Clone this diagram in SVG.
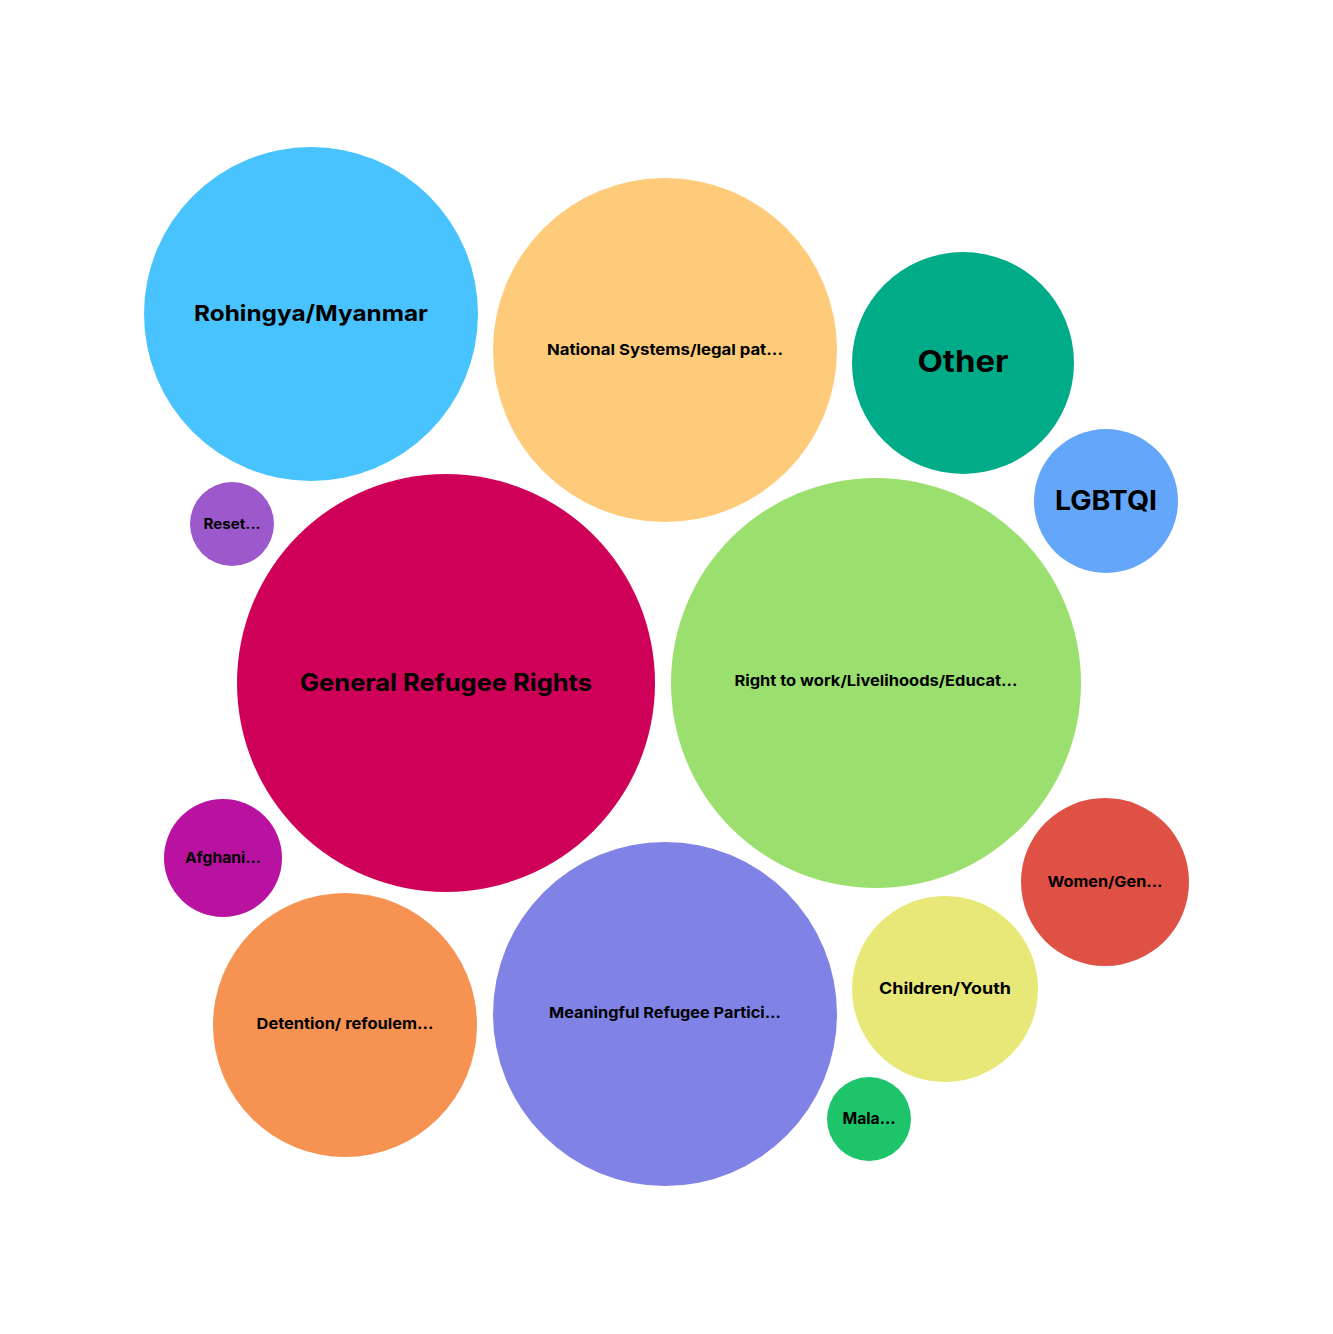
<svg xmlns="http://www.w3.org/2000/svg" width="1333" height="1334" viewBox="0 0 1333 1334">
<style>
text{font-family:Inter,"Open Sans","Liberation Sans",sans-serif;font-weight:700;fill:#000;text-anchor:middle;dominant-baseline:central}
</style>
<rect width="1333" height="1334" fill="#fff"/>
<g id="rohingya"><circle cx="311" cy="314" r="167" fill="#48C3FD"/><text x="311" y="313" font-size="22" textLength="234" lengthAdjust="spacingAndGlyphs">Rohingya/Myanmar</text></g>
<g id="national"><circle cx="665" cy="350" r="172" fill="#FECB7A"/><text x="665" y="349" font-size="15" textLength="236" lengthAdjust="spacingAndGlyphs">National Systems/legal pat...</text></g>
<g id="other"><circle cx="963" cy="363" r="111" fill="#00AB87"/><text x="963" y="361" font-size="30" textLength="91" lengthAdjust="spacingAndGlyphs">Other</text></g>
<g id="lgbtqi"><circle cx="1106" cy="501" r="72" fill="#64A6FA"/><text x="1106" y="500" font-size="27" textLength="102" lengthAdjust="spacingAndGlyphs">LGBTQI</text></g>
<g id="reset"><circle cx="232" cy="524" r="42" fill="#9B59CB"/><text x="232" y="523" font-size="14" textLength="57" lengthAdjust="spacingAndGlyphs">Reset...</text></g>
<g id="general"><circle cx="446" cy="683" r="209" fill="#CF0058"/><text x="446" y="682" font-size="24" textLength="292" lengthAdjust="spacingAndGlyphs">General Refugee Rights</text></g>
<g id="work"><circle cx="876" cy="683" r="205" fill="#9BE06F"/><text x="876" y="680" font-size="15" textLength="283" lengthAdjust="spacingAndGlyphs">Right to work/Livelihoods/Educat...</text></g>
<g id="afghan"><circle cx="223" cy="858" r="59" fill="#BA12A0"/><text x="223" y="857" font-size="15" textLength="76" lengthAdjust="spacingAndGlyphs">Afghani...</text></g>
<g id="women"><circle cx="1105" cy="882" r="84" fill="#DF5045"/><text x="1105" y="881" font-size="15" textLength="115" lengthAdjust="spacingAndGlyphs">Women/Gen...</text></g>
<g id="children"><circle cx="945" cy="989" r="93" fill="#E7E877"/><text x="945" y="988" font-size="16" textLength="132" lengthAdjust="spacingAndGlyphs">Children/Youth</text></g>
<g id="detention"><circle cx="345" cy="1025" r="132" fill="#F69352"/><text x="345" y="1023" font-size="15" textLength="177" lengthAdjust="spacingAndGlyphs">Detention/ refoulem...</text></g>
<g id="meaningful"><circle cx="665" cy="1014" r="172" fill="#8082E6"/><text x="665" y="1012" font-size="15" textLength="232" lengthAdjust="spacingAndGlyphs">Meaningful Refugee Partici...</text></g>
<g id="mala"><circle cx="869" cy="1119" r="42" fill="#1DC46A"/><text x="869" y="1118" font-size="16" textLength="53" lengthAdjust="spacingAndGlyphs">Mala...</text></g>
<g id="connectors"></g>
</svg>
